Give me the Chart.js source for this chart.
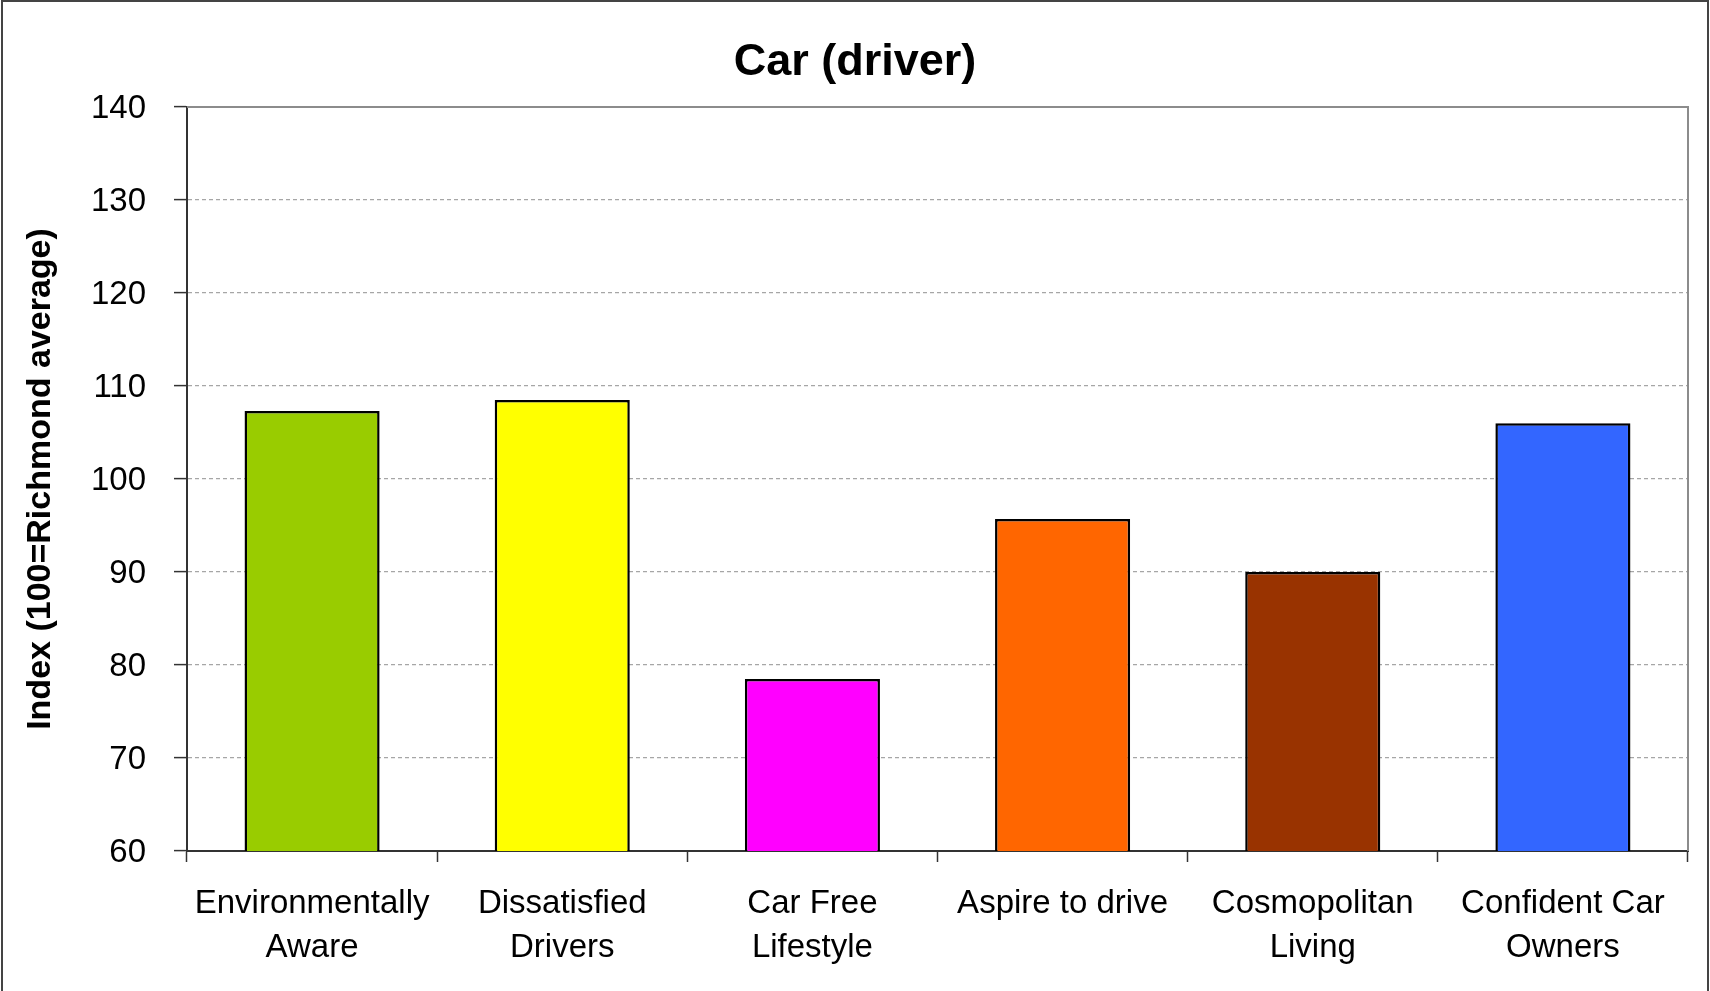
<!DOCTYPE html>
<html>
<head>
<meta charset="utf-8">
<script src="https://cdn.jsdelivr.net/npm/chart.js@4.4.1/dist/chart.umd.min.js"></script>
<style>
  html, body { margin: 0; padding: 0; background: #fff; }
  #wrap { width: 1710px; height: 991px; position: relative; }
</style>
</head>
<body>
<div id="wrap"><canvas id="myChart" width="1710" height="991"></canvas></div>
<script>
const categories = [
  ['Environmentally', 'Aware'],
  ['Dissatisfied', 'Drivers'],
  ['Car Free', 'Lifestyle'],
  'Aspire to drive',
  ['Cosmopolitan', 'Living'],
  ['Confident Car', 'Owners']
];
const indexValues = [107.3, 108.5, 78.5, 95.7, 90.0, 106.0];
const barColors = ['#99CC00', '#FFFF00', '#FF00FF', '#FF6600', '#993300', '#3366FF'];
const yTicks = [60, 70, 80, 90, 100, 110, 120, 130, 140];

const fontFam = '"Liberation Sans", Arial, sans-serif';

// plot frame (top + right edge) and outer border, like the excel chart
const frame = {
  id: 'frame',
  afterDatasetsDraw(chart) {
    const { ctx, chartArea } = chart;
    ctx.save();
    ctx.strokeStyle = '#8c8c8c';
    ctx.lineWidth = 2;
    ctx.beginPath();
    ctx.moveTo(chartArea.left, chartArea.top);
    ctx.lineTo(chartArea.right, chartArea.top);
    ctx.lineTo(chartArea.right, chartArea.bottom);
    ctx.stroke();
    ctx.restore();
  },
  afterDraw(chart) {
    const { ctx, width, height } = chart;
    ctx.save();
    ctx.strokeStyle = '#444';
    ctx.lineWidth = 2;
    ctx.strokeRect(2, 1, width - 4, height);
    ctx.restore();
  }
};

const config = {
  type: 'bar',
  data: {
    labels: categories,
    datasets: [{
      label: 'Car (driver)',
      data: indexValues,
      backgroundColor: barColors,
      borderColor: '#000',
      borderWidth: 2.5,
      borderSkipped: false,
      categoryPercentage: 1,
      barPercentage: 0.54
    }]
  },
  options: {
    responsive: false,
    animation: false,
    layout: { padding: 0 },
    plugins: {
      legend: { display: false },
      tooltip: { enabled: false },
      title: {
        display: true,
        text: 'Car (driver)',
        color: '#000',
        font: { family: fontFam, size: 45, weight: 'bold', lineHeight: 1.2 },
        padding: { top: 36, bottom: 17 }
      }
    },
    scales: {
      x: {
        grid: {
          offset: true,
          drawOnChartArea: false,
          drawTicks: true,
          tickLength: 11,
          tickColor: '#333',
          tickWidth: 1.5
        },
        border: { display: true, color: '#333', width: 2 },
        ticks: {
          color: '#000',
          padding: 20,
          maxRotation: 0,
          autoSkip: false,
          font: { family: fontFam, size: 33, lineHeight: 1.34 }
        },
        afterFit(scale) { scale.height = 140; }
      },
      y: {
        min: 60,
        max: 140,
        afterBuildTicks(scale) { scale.ticks = yTicks.map(v => ({ value: v })); },
        grid: {
          color: '#a6a6a6',
          lineWidth: 1.2,
          tickBorderDash: [],
          tickLength: 13,
          tickColor: '#333',
          tickWidth: 1.5
        },
        border: { display: true, color: '#333', width: 2, dash: [4, 3] },
        ticks: {
          color: '#000',
          padding: 28,
          labelOffset: 2,
          font: { family: fontFam, size: 33 }
        },
        title: {
          display: true,
          text: 'Index (100=Richmond average)',
          color: '#000',
          font: { family: fontFam, size: 34, weight: 'bold', lineHeight: 1.2 },
          padding: { top: 20, bottom: 0 }
        },
        afterFit(scale) { scale.width = 187; }
      },
      // empty right-hand strip so the title centres on the whole canvas
      yRight: {
        position: 'right',
        display: true,
        grid: { display: false },
        border: { display: false },
        ticks: { display: false },
        afterFit(scale) { scale.width = 22; }
      }
    }
  },
  plugins: [frame]
};

const chart = new Chart(document.getElementById('myChart').getContext('2d'), config);
</script>
</body>
</html>
